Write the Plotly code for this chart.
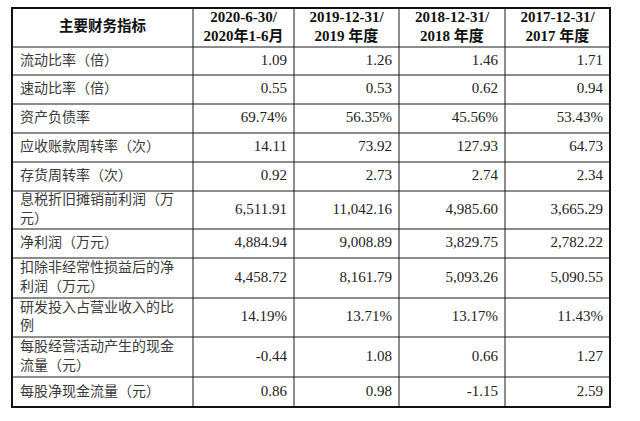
import plotly.graph_objects as go

# ---------------- data ----------------
header_label = "主要财务指标"
periods = ["2020-6-30/<br>2020年1-6月", "2019-12-31/<br>2019 年度",
           "2018-12-31/<br>2018 年度", "2017-12-31/<br>2017 年度"]
indicators = [
    "流动比率（倍）",
    "速动比率（倍）",
    "资产负债率",
    "应收账款周转率（次）",
    "存货周转率（次）",
    "息税折旧摊销前利润（万<br>元）",
    "净利润（万元）",
    "扣除非经常性损益后的净<br>利润（万元）",
    "研发投入占营业收入的比<br>例",
    "每股经营活动产生的现金<br>流量（元）",
    "每股净现金流量（元）",
]
is_percent = [False, False, True, False, False, False, False, False, True, False, False]
v2020 = [1.09, 0.55, 69.74, 14.11, 0.92, 6511.91, 4884.94, 4458.72, 14.19, -0.44, 0.86]
v2019 = [1.26, 0.53, 56.35, 73.92, 2.73, 11042.16, 9008.89, 8161.79, 13.71, 1.08, 0.98]
v2018 = [1.46, 0.62, 45.56, 127.93, 2.74, 4985.60, 3829.75, 5093.26, 13.17, 0.66, -1.15]
v2017 = [1.71, 0.94, 53.43, 64.73, 2.34, 3665.29, 2782.22, 5090.55, 11.43, 1.27, 2.59]
columns = [v2020, v2019, v2018, v2017]

# ---------------- layout / style ----------------
W, H = 640, 421
col_edges = [12, 193, 294, 399, 505, 610]
row_heights = [39, 28, 29, 29, 29, 29, 38, 29, 40, 39, 40, 30]
top = 8
row_edges = [top]
for h in row_heights:
    row_edges.append(row_edges[-1] + h)
row_centers = [(row_edges[i] + row_edges[i + 1]) / 2 for i in range(len(row_heights))]

line_color = "#1a1a1a"
text_color = "#222222"
cjk_font = "Noto Sans CJK SC"
num_font = "Liberation Serif, Times New Roman, serif"
mixed_font = "Liberation Serif, Noto Sans CJK SC"


def fmt(v, pct):
    s = f"{v:,.2f}"
    return s + "%" if pct else s


fig = go.Figure()

# header
hdr_x = [(col_edges[i] + col_edges[i + 1]) / 2 for i in range(len(col_edges) - 1)]
fig.add_trace(go.Scatter(
    x=hdr_x[:1], y=[row_centers[0]], mode="text", text=[header_label],
    textposition="middle center",
    textfont=dict(family=cjk_font, size=14.5, color="#111111", weight="bold"),
    hoverinfo="skip", showlegend=False))
fig.add_trace(go.Scatter(
    x=hdr_x[1:], y=[row_centers[0]] * len(periods), mode="text", text=periods,
    textposition="middle center",
    textfont=dict(family=mixed_font, size=15, color="#111111", weight="bold"),
    hoverinfo="skip", showlegend=False))

# indicator labels
fig.add_trace(go.Scatter(
    x=[col_edges[0] + 8] * len(indicators), y=row_centers[1:], mode="text",
    text=indicators, textposition="middle right",
    textfont=dict(family=cjk_font, size=14, color="#3a3a3a"),
    hoverinfo="skip", showlegend=False))

# values
for ci, vals in enumerate(columns):
    xr = col_edges[ci + 2] - 7
    fig.add_trace(go.Scatter(
        x=[xr] * len(vals), y=row_centers[1:], mode="text",
        text=[fmt(v, p) for v, p in zip(vals, is_percent)],
        textposition="middle left",
        textfont=dict(family=num_font, size=15, color=text_color),
        hoverinfo="skip", showlegend=False))

# grid lines
shapes = []
for y in row_edges[1:-1]:
    shapes.append(dict(type="line", x0=col_edges[0], x1=col_edges[-1], y0=y, y1=y,
                       line=dict(color=line_color, width=1)))
for x in col_edges[1:-1]:
    shapes.append(dict(type="line", x0=x, x1=x, y0=row_edges[0], y1=row_edges[-1],
                       line=dict(color=line_color, width=1)))
shapes.append(dict(type="rect", x0=col_edges[0], x1=col_edges[-1], y0=row_edges[0],
                   y1=row_edges[-1], line=dict(color="#111111", width=2)))

fig.update_layout(
    width=W, height=H, autosize=False,
    margin=dict(l=0, r=0, t=0, b=0),
    paper_bgcolor="white", plot_bgcolor="white",
    xaxis=dict(range=[0, W], visible=False, fixedrange=True),
    yaxis=dict(range=[H, 0], visible=False, fixedrange=True),
    shapes=shapes,
)

fig.write_html("out.html", config={"displayModeBar": False, "staticPlot": True},
               post_script="document.body.style.margin='0';document.body.style.overflow='hidden';")
